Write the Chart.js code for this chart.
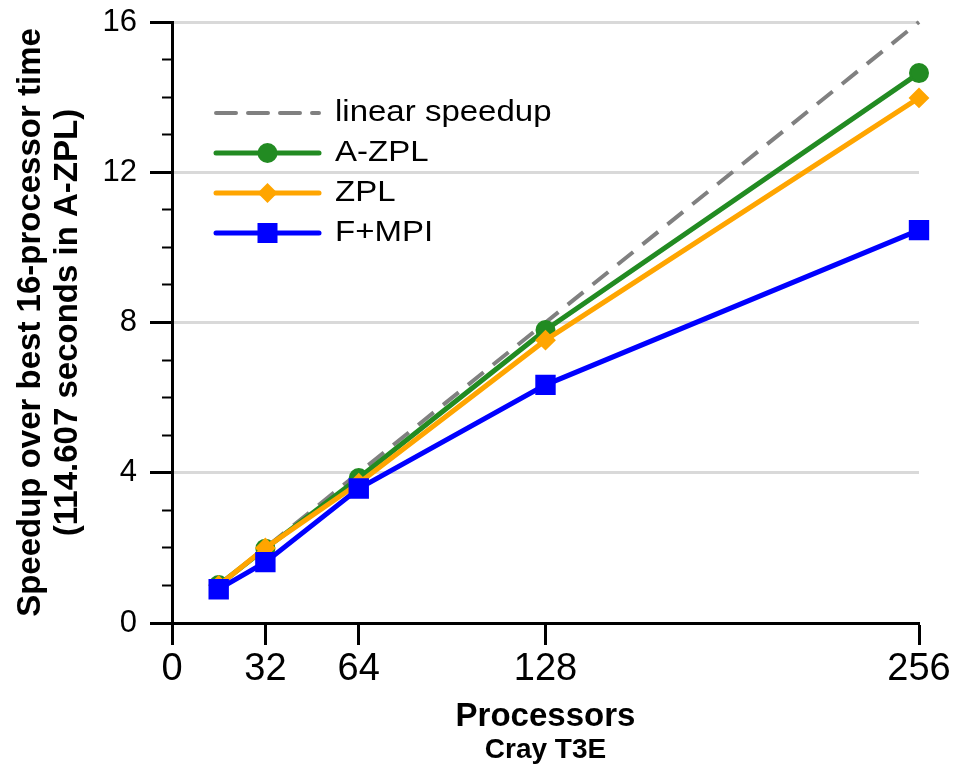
<!DOCTYPE html>
<html lang="en">
<head>
    <meta charset="UTF-8">
    <title>Speedup on Cray T3E</title>
    <script src="https://cdn.jsdelivr.net/npm/chart.js"></script>
    <style>
        body { margin: 0; background: #fff; }
    </style>
</head>
<body>
    <canvas id="speedup" width="957" height="768"></canvas>

    <script>
        // values
        const processors = [16, 32, 64, 128, 256];
        const xTickValues = [0, 32, 64, 128, 256];
        const linearSpeedup = [1, 2, 4, 8, 16];
        const aZpl = [1.01, 1.98, 3.86, 7.80, 14.64];
        const zpl = [1.00, 2.00, 3.72, 7.53, 13.98];
        const fMpi = [0.90, 1.62, 3.58, 6.34, 10.46];

        const FONT = 'Liberation Sans, Arial, sans-serif';
        Chart.defaults.font.family = FONT;
        Chart.defaults.color = '#000';

        function pts(ys) {
            return processors.map((x, i) => ({ x: x, y: ys[i] }));
        }

        // legend drawn inside the plot, top left
        const insideLegend = {
            id: 'insideLegend',
            afterDraw(chart) {
                const { ctx, chartArea } = chart;
                const x0 = chartArea.left + 44;
                const y0 = chartArea.top + 91;
                const lineLen = 103;
                ctx.save();
                chart.data.datasets.forEach((ds, i) => {
                    const y = y0 + i * 40;
                    ctx.strokeStyle = ds.borderColor;
                    ctx.lineWidth = ds.borderWidth;
                    ctx.setLineDash(ds.borderDash || []);
                    ctx.lineCap = 'round';
                    ctx.beginPath();
                    ctx.moveTo(x0, y);
                    ctx.lineTo(x0 + lineLen, y);
                    ctx.stroke();
                    ctx.setLineDash([]);

                    const cx = x0 + lineLen / 2;
                    ctx.fillStyle = ds.borderColor;
                    ctx.beginPath();
                    if (ds.pointStyle === 'circle') {
                        ctx.arc(cx, y, 10, 0, Math.PI * 2);
                    } else if (ds.pointStyle === 'rectRot') {
                        ctx.moveTo(cx, y - 10);
                        ctx.lineTo(cx + 10, y);
                        ctx.lineTo(cx, y + 10);
                        ctx.lineTo(cx - 10, y);
                        ctx.closePath();
                    } else if (ds.pointStyle === 'rect') {
                        ctx.rect(cx - 10, y - 10, 20, 20);
                    }
                    if (ds.pointRadius > 0) ctx.fill();

                    ctx.save();
                    ctx.translate(x0 + 119, y);
                    ctx.scale(1.1, 1);
                    ctx.fillStyle = '#000';
                    ctx.font = '30px ' + FONT;
                    ctx.textBaseline = 'middle';
                    ctx.fillText(ds.label, 0, 0);
                    ctx.restore();
                });
                ctx.restore();
            }
        };

        new Chart(document.getElementById('speedup').getContext('2d'), {
            type: 'line',
            data: {
                datasets: [
                    {
                        label: 'linear speedup',
                        data: pts(linearSpeedup),
                        borderColor: '#808080',
                        borderWidth: 4,
                        borderDash: [20, 12],
                        pointRadius: 0,
                        order: 4
                    },
                    {
                        label: 'A-ZPL',
                        data: pts(aZpl),
                        borderColor: '#228b22',
                        backgroundColor: '#228b22',
                        borderWidth: 5,
                        pointStyle: 'circle',
                        pointRadius: 9,
                        pointBorderWidth: 2,
                        order: 3
                    },
                    {
                        label: 'ZPL',
                        data: pts(zpl),
                        borderColor: '#ffa500',
                        backgroundColor: '#ffa500',
                        borderWidth: 5,
                        pointStyle: 'rectRot',
                        pointRadius: 9,
                        pointBorderWidth: 2,
                        order: 2
                    },
                    {
                        label: 'F+MPI',
                        data: pts(fMpi),
                        borderColor: '#0000ff',
                        backgroundColor: '#0000ff',
                        borderWidth: 5,
                        pointStyle: 'rect',
                        pointRadius: 13,
                        pointBorderWidth: 2,
                        order: 1
                    }
                ]
            },
            options: {
                responsive: false,
                animation: false,
                clip: false,
                layout: { padding: { top: 22, right: 38, bottom: 0, left: 0 } },
                plugins: {
                    legend: { display: false },
                    tooltip: { enabled: false },
                    title: {
                        display: true,
                        position: 'bottom',
                        fullSize: false,
                        text: 'Cray T3E',
                        color: '#000',
                        font: { size: 28, weight: 'bold', lineHeight: 1.1 },
                        padding: { top: 0, bottom: 2 }
                    }
                },
                scales: {
                    x: {
                        type: 'linear',
                        min: 0,
                        max: 256,
                        afterBuildTicks: s => { s.ticks = xTickValues.map(v => ({ value: v })); },
                        afterFit: s => { s.height = 112.2; },
                        ticks: { font: { size: 38 }, padding: 2, maxRotation: 0, autoSkip: false },
                        grid: { drawOnChartArea: false, tickLength: 22, tickColor: '#000', tickWidth: 3 },
                        border: { color: '#000', width: 3 },
                        title: {
                            display: true,
                            text: 'Processors',
                            font: { size: 33, weight: 'bold', lineHeight: 1.1 },
                            padding: { top: 0, bottom: 0 }
                        }
                    },
                    y: {
                        min: 0,
                        max: 16,
                        weight: 1,
                        afterFit: s => {
                            s.width = 172;
                            s.paddingTop = 0;
                            s.paddingBottom = 0;
                        },
                        ticks: { stepSize: 4, font: { size: 31 }, padding: 13 },
                        grid: {
                            color: c => (c.tick && c.tick.value === 0) ? 'rgba(0,0,0,0)' : '#d9d9d9',
                            lineWidth: 3,
                            tickLength: 22,
                            tickColor: '#000',
                            tickWidth: 3
                        },
                        border: { color: '#000', width: 3 },
                        title: {
                            display: true,
                            text: ['Speedup over best 16-processor time', '(114.607 seconds in A-ZPL)'],
                            font: { size: 33, weight: 'bold', lineHeight: 1.12 },
                            padding: { top: 12, bottom: 0 }
                        }
                    },
                    yMinor: {
                        position: 'left',
                        min: 0,
                        max: 16,
                        weight: 0,
                        afterFit: s => {
                            s.width = 0;
                            s.paddingTop = 0;
                            s.paddingBottom = 0;
                        },
                        ticks: { stepSize: 1, display: false },
                        grid: { drawOnChartArea: false, tickLength: 10, tickColor: '#000', tickWidth: 2 },
                        border: { display: false }
                    }
                }
            },
            plugins: [insideLegend]
        });
    </script>
</body>
</html>
